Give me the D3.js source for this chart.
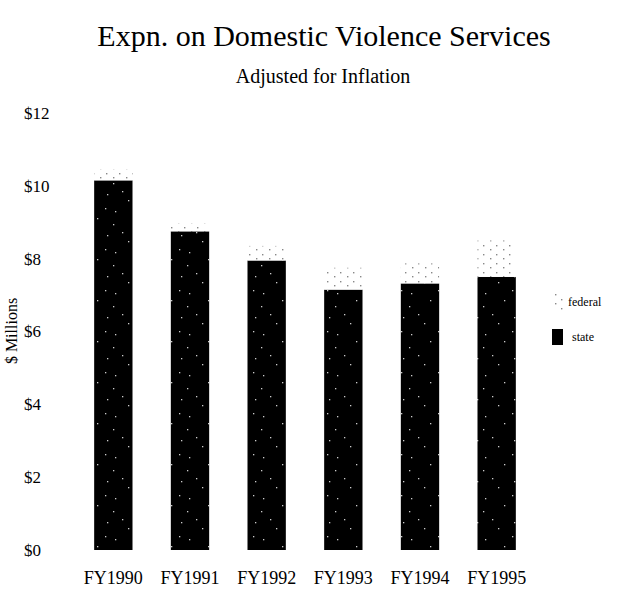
<!DOCTYPE html>
<html>
<head>
<meta charset="utf-8">
<script src="https://cdn.jsdelivr.net/npm/d3@7"></script>
<style>
  html, body { margin: 0; padding: 0; background: #fff; }
  svg { display: block; font-family: "Liberation Serif", "DejaVu Serif", serif; }
</style>
</head>
<body>
<svg id="chart" width="640" height="599"></svg>
<script>
// Domestic violence services expenditure, $ millions, adjusted for inflation
const years = ["FY1990", "FY1991", "FY1992", "FY1993", "FY1994", "FY1995"];
const stateFunds = [10.15, 8.75, 7.95, 7.15, 7.32, 7.5];
const federalFunds = [0.3, 0.22, 0.4, 0.6, 0.55, 1.0];
const yTicks = [0, 2, 4, 6, 8, 10, 12];
const seriesNames = ["federal", "state"];

const svg = d3.select("#chart");
const defs = svg.append("defs");

// Speckled black texture for the state segment
const statePat = defs.append("pattern")
  .attr("id", "statePat").attr("patternUnits", "userSpaceOnUse")
  .attr("width", 37).attr("height", 41);
statePat.append("rect").attr("width", 37).attr("height", 41).attr("fill", "#000");
[[4, 6], [23, 13], [11, 27], [31, 3], [17, 36], [33, 30], [2, 19]].forEach(([x, y]) =>
  statePat.append("rect").attr("x", x).attr("y", y).attr("width", 1.3).attr("height", 1.3).attr("fill", "#ccc"));

// Sparse dot texture for the federal segment
const fedPat = defs.append("pattern")
  .attr("id", "fedPat").attr("patternUnits", "userSpaceOnUse")
  .attr("width", 13).attr("height", 9);
fedPat.append("rect").attr("width", 13).attr("height", 9).attr("fill", "#fff");
[[2, 2], [9, 6]].forEach(([x, y]) =>
  fedPat.append("rect").attr("x", x).attr("y", y).attr("width", 1.4).attr("height", 1.4).attr("fill", "#888"));

const x = d3.scaleBand().domain(years).range([75, 535]).paddingInner(0.5).paddingOuter(0.25);
const y = d3.scaleLinear().domain([0, 12]).range([550, 113]);

const rows = years.map((yr, i) => ({ year: yr, state: stateFunds[i], federal: federalFunds[i] }));
const stacked = d3.stack().keys(["state", "federal"])(rows);

// Title block
svg.append("text").attr("x", 324).attr("y", 46).attr("text-anchor", "middle")
  .attr("font-size", 30).text("Expn. on Domestic Violence Services");
svg.append("text").attr("x", 323).attr("y", 83).attr("text-anchor", "middle")
  .attr("font-size", 20).text("Adjusted for Inflation");

// Y axis: labels only
const yAxis = svg.append("g").attr("transform", "translate(24,0)")
  .call(d3.axisLeft(y).tickValues(yTicks).tickSize(0).tickFormat(d => "$" + d));
yAxis.select(".domain").remove();
yAxis.selectAll("text").attr("x", 0).attr("text-anchor", "start")
  .attr("font-family", "Liberation Serif").attr("font-size", 17).attr("fill", "#000");

svg.append("text").attr("transform", "translate(17,331) rotate(-90)")
  .attr("text-anchor", "middle").attr("font-size", 16).text("$ Millions");

// X axis: labels only
const xAxis = svg.append("g").attr("transform", "translate(0,568)")
  .call(d3.axisBottom(x).tickSize(0));
xAxis.select(".domain").remove();
xAxis.selectAll("text").attr("font-family", "Liberation Serif").attr("font-size", 18).attr("fill", "#000");

// Stacked bars
const fills = { state: "url(#statePat)", federal: "url(#fedPat)" };
svg.append("g").selectAll("g").data(stacked).join("g")
  .attr("fill", d => fills[d.key])
  .selectAll("rect").data(d => d).join("rect")
  .attr("x", d => x(d.data.year))
  .attr("width", x.bandwidth())
  .attr("y", d => y(d[1]))
  .attr("height", d => y(d[0]) - y(d[1]));

// Legend
const legend = svg.append("g");
const legendY = d3.scalePoint().domain(seriesNames).range([302, 337]);
legend.selectAll("rect").data(seriesNames).join("rect")
  .attr("x", 552).attr("y", d => legendY(d) - 8).attr("width", 11).attr("height", 16)
  .attr("fill", d => d === "state" ? "#000" : fills[d]);
legend.selectAll("text").data(seriesNames).join("text")
  .attr("x", d => d === "federal" ? 568 : 572).attr("y", d => legendY(d) + 4)
  .attr("font-size", 12).text(d => d);
</script>
</body>
</html>
